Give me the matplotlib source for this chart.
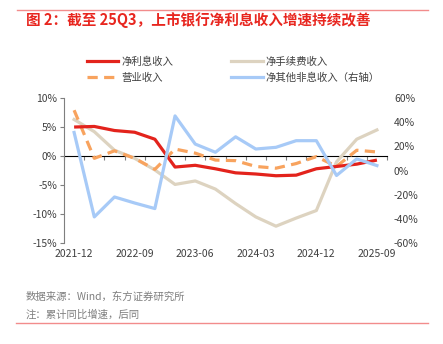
import matplotlib
matplotlib.use("Agg")
import matplotlib.pyplot as plt
from matplotlib.lines import Line2D
import numpy as np

plt.rcParams['font.family'] = ['Noto Sans CJK SC', 'DejaVu Sans']
plt.rcParams['axes.unicode_minus'] = False

# quarterly cumulative yoy growth, listed banks
quarters = ['2021-12', '2022-03', '2022-06', '2022-09', '2022-12', '2023-03', '2023-06', '2023-09',
            '2023-12', '2024-03', '2024-06', '2024-09', '2024-12', '2025-03', '2025-06', '2025-09']
net_interest = [5.0, 5.1, 4.4, 4.1, 2.9, -1.9, -1.6, -2.2, -2.9, -3.1, -3.4, -3.3, -2.2, -1.8, -1.4, -0.7]
fee_income = [6.3, 4.2, 1.0, -0.4, -2.4, -4.9, -4.3, -5.7, -8.2, -10.5, -12.1, -10.7, -9.4, -1.0, 2.9, 4.5]
revenue = [7.9, -0.4, 0.9, -0.4, -2.3, 1.2, 0.5, -0.7, -0.8, -1.8, -2.1, -1.3, -0.1, -1.8, 1.0, 0.7]
other_nonint = [31.5, -38.4, -21.9, -26.9, -31.5, 45.2, 21.9, 15.1, 27.9, 17.8, 19.2, 24.7, 24.7, -4.1, 9.6, 4.1]

red = '#E3231C'
beige = '#DDD3C0'
orange = '#F8A35E'
blue = '#A7CAF7'
grey = '#7F7F7F'
txt = '#404040'

fig = plt.figure(figsize=(4.43, 3.44), dpi=100)
ax = fig.add_axes([0.1445, 0.2936, 0.7291, 0.4214])
x = np.arange(len(quarters))

ax.plot(x, net_interest, color=red, lw=2.3, solid_capstyle='butt', zorder=4)
ax.plot(x, fee_income, color=beige, lw=2.3, zorder=2)
ax.plot(x, revenue, color=orange, lw=2.3, dashes=(3.2, 2.0), zorder=3)

ax2 = ax.twinx()
ax2.plot(x, other_nonint, color=blue, lw=2.3, zorder=3)

ax.set_xlim(-0.5, len(quarters) - 0.5)
ax.set_ylim(-15, 10)
ax2.set_ylim(-60, 60)

ax.set_yticks(np.arange(-15, 11, 5))
ax.set_yticklabels([f'{v}%' for v in range(-15, 11, 5)])
ax2.set_yticks(np.arange(-60, 61, 20))
ax2.set_yticklabels([f'{v}%' for v in range(-60, 61, 20)])

ax.set_xticks(x[::3])
ax.set_xticklabels(quarters[::3])
ax.tick_params(axis='x', length=0, pad=4, labelsize=7.5, colors=txt)
ax.tick_params(axis='y', length=3, width=0.8, color=grey, pad=2, labelsize=7.5, labelcolor=txt)
ax2.tick_params(axis='y', length=0, pad=5, labelsize=7.5, labelcolor=txt)

for s in ['top', 'right', 'bottom']:
    ax.spines[s].set_visible(False)
for s in ax2.spines.values():
    s.set_visible(False)
ax.spines['left'].set_color(grey)
ax.spines['left'].set_linewidth(0.8)

# zero line with category boundary ticks
zero_axis = ax.secondary_xaxis(15 / 25)
zero_axis.set_xticks(np.arange(-0.5, len(quarters), 1.0))
zero_axis.tick_params(direction='in', length=3, width=0.8, color=grey, labelbottom=False, labeltop=False)
zero_axis.spines['bottom'].set_color(grey)
zero_axis.spines['bottom'].set_linewidth(0.8)

handles = [
    Line2D([], [], color=red, lw=2.3),
    Line2D([], [], color=orange, lw=2.3, dashes=(3.2, 2.0)),
    Line2D([], [], color=beige, lw=2.3),
    Line2D([], [], color=blue, lw=2.3),
]
labels = ['净利息收入', '营业收入', '净手续费收入', '净其他非息收入（右轴）']
fig.legend(handles, labels, ncol=2, loc='center left', bbox_to_anchor=(0.175, 0.797),
           frameon=False, fontsize=7.5, handlelength=3.0, handletextpad=0.3,
           columnspacing=5.6, labelspacing=0.55, labelcolor=txt)

fig.text(0.058, 0.942, '图 2：截至 25Q3，上市银行净利息收入增速持续改善', color='#E8261F',
         fontsize=10.5, fontweight='bold', va='center', ha='left')
fig.text(0.058, 0.137, '数据来源：Wind，东方证券研究所', color=grey, fontsize=7.5, va='center')
fig.text(0.058, 0.084, '注：累计同比增速，后同', color=grey, fontsize=7.5, va='center')

fig.add_artist(Line2D([0.038, 0.966], [0.971, 0.971], color='#F28C8C', lw=1.0))
fig.add_artist(Line2D([0.036, 0.966], [0.061, 0.061], color='#F28C8C', lw=1.0))

fig.savefig('out.png', dpi=100)
